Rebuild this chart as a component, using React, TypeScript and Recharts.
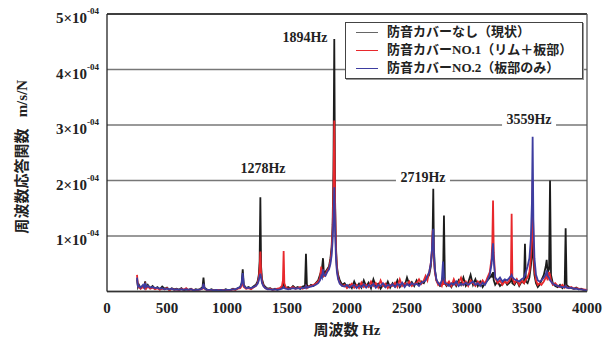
import { LineChart, Line, XAxis, YAxis, CartesianGrid, ReferenceLine, ReferenceDot, Legend, Label } from 'recharts';

// frequency-response spectra, values in units of 1e-4 m/s/N
const freqs = [
  250, 258, 266, 280, 300, 310, 318, 326, 340, 360,
  380, 400, 420, 440, 460, 480, 500, 520, 540, 560,
  580, 600, 620, 640, 660, 680, 700, 720, 740, 760,
  780, 796, 804, 812, 830, 850, 870, 890, 910, 930,
  950, 970, 990, 1010, 1030, 1050, 1070, 1090, 1110, 1122,
  1131, 1140, 1160, 1180, 1200, 1220, 1240, 1255, 1265, 1272,
  1278, 1284, 1292, 1305, 1320, 1340, 1360, 1380, 1400, 1420,
  1440, 1458, 1466, 1472, 1478, 1490, 1510, 1530, 1550, 1570,
  1590, 1610, 1630, 1650, 1658, 1666, 1680, 1700, 1720, 1740,
  1760, 1775, 1785, 1792, 1800, 1808, 1820, 1835, 1850, 1862,
  1872, 1880, 1887, 1894, 1901, 1908, 1916, 1926, 1940, 1960,
  1980, 2000, 2020, 2040, 2060, 2080, 2100, 2120, 2140, 2160,
  2180, 2200, 2220, 2240, 2260, 2280, 2300, 2320, 2340, 2360,
  2380, 2400, 2420, 2440, 2460, 2480, 2500, 2520, 2540, 2560,
  2580, 2600, 2620, 2640, 2655, 2670, 2685, 2698, 2708, 2714,
  2719, 2724, 2732, 2745, 2760, 2775, 2790, 2800, 2808, 2816,
  2830, 2850, 2870, 2890, 2910, 2930, 2950, 2970, 2990, 3010,
  3030, 3050, 3070, 3090, 3110, 3130, 3150, 3170, 3190, 3205,
  3211, 3217, 3223, 3235, 3255, 3275, 3295, 3315, 3335, 3355,
  3366, 3372, 3378, 3395, 3415, 3435, 3455, 3475, 3483, 3491,
  3505, 3520, 3532, 3541, 3547, 3553, 3562, 3575, 3590, 3605,
  3620, 3640, 3656, 3664, 3672, 3684, 3692, 3700, 3715, 3735,
  3755, 3775, 3795, 3814, 3822, 3830, 3850, 3870, 3890, 3910,
  3930, 3950, 3970, 4000,
];

// 防音カバーなし（現状）
const noCover = [
  0.22, 0.08, 0.12, 0.06, 0.1, 0.08, 0.18, 0.07, 0.12, 0.06,
  0.1, 0.05, 0.08, 0.04, 0.09, 0.05, 0.07, 0.03, 0.06, 0.04,
  0.05, 0.03, 0.06, 0.02, 0.04, 0.03, 0.05, 0.02, 0.04, 0.03,
  0.05, 0.08, 0.25, 0.07, 0.04, 0.02, 0.04, 0.02, 0.03, 0.02,
  0.03, 0.02, 0.04, 0.02, 0.03, 0.05, 0.03, 0.06, 0.08, 0.15,
  0.4, 0.12, 0.06, 0.08, 0.05, 0.09, 0.12, 0.18, 0.3, 0.55,
  1.7, 0.45, 0.22, 0.12, 0.08, 0.05, 0.06, 0.03, 0.05, 0.03,
  0.05, 0.07, 0.1, 0.2, 0.08, 0.06, 0.08, 0.05, 0.1, 0.06,
  0.08, 0.05, 0.09, 0.1, 0.68, 0.12, 0.08, 0.12, 0.1, 0.15,
  0.2, 0.3, 0.25, 0.42, 0.6, 0.3, 0.35, 0.4, 0.45, 0.6,
  0.8, 1.2, 2.2, 4.55, 1.6, 0.8, 0.45, 0.3, 0.2, 0.12,
  0.15, 0.08, 0.12, 0.06, 0.18, 0.08, 0.14, 0.07, 0.2, 0.09,
  0.16, 0.06, 0.22, 0.1, 0.14, 0.05, 0.12, 0.08, 0.18, 0.07,
  0.15, 0.09, 0.2, 0.08, 0.14, 0.1, 0.25, 0.12, 0.17, 0.1,
  0.2, 0.12, 0.18, 0.15, 0.22, 0.25, 0.3, 0.45, 0.7, 1.1,
  1.85, 0.8, 0.4, 0.2, 0.15, 0.1, 0.12, 0.2, 1.37, 0.15,
  0.1, 0.15, 0.08, 0.18, 0.1, 0.2, 0.12, 0.25, 0.1, 0.16,
  0.3, 0.12, 0.22, 0.1, 0.18, 0.08, 0.15, 0.2, 0.25, 0.3,
  0.25, 0.35, 0.2, 0.12, 0.18, 0.1, 0.14, 0.2, 0.12, 0.16,
  0.2, 0.28, 0.15, 0.12, 0.2, 0.1, 0.18, 0.15, 0.86, 0.18,
  0.15, 0.25, 0.45, 0.7, 1.0, 0.6, 0.3, 0.15, 0.08, 0.12,
  0.2, 0.3, 0.45, 0.57, 0.35, 0.4, 2.0, 0.3, 0.15, 0.1,
  0.08, 0.12, 0.06, 0.1, 1.14, 0.12, 0.08, 0.06, 0.05, 0.07,
  0.04, 0.05, 0.03, 0.02,
];

// 防音カバーNO.1（リム＋板部）
const cover1 = [
  0.3, 0.1, 0.08, 0.05, 0.08, 0.06, 0.12, 0.05, 0.09, 0.05,
  0.07, 0.04, 0.06, 0.03, 0.05, 0.04, 0.06, 0.02, 0.05, 0.03,
  0.04, 0.02, 0.05, 0.03, 0.06, 0.02, 0.04, 0.03, 0.02, 0.03,
  0.04, 0.05, 0.12, 0.05, 0.03, 0.02, 0.03, 0.02, 0.02, 0.03,
  0.02, 0.03, 0.02, 0.03, 0.02, 0.04, 0.03, 0.05, 0.06, 0.1,
  0.22, 0.08, 0.05, 0.06, 0.04, 0.07, 0.1, 0.15, 0.25, 0.4,
  0.72, 0.35, 0.18, 0.1, 0.06, 0.04, 0.05, 0.03, 0.04, 0.05,
  0.06, 0.1, 0.2, 0.73, 0.15, 0.07, 0.05, 0.06, 0.08, 0.05,
  0.06, 0.08, 0.05, 0.07, 0.1, 0.06, 0.09, 0.1, 0.12, 0.14,
  0.18, 0.25, 0.45, 0.3, 0.35, 0.28, 0.3, 0.38, 0.42, 0.55,
  0.75, 1.1, 1.8, 3.08, 1.5, 0.75, 0.4, 0.25, 0.15, 0.1,
  0.12, 0.06, 0.1, 0.14, 0.07, 0.12, 0.06, 0.16, 0.08, 0.12,
  0.08, 0.18, 0.1, 0.15, 0.07, 0.2, 0.1, 0.14, 0.06, 0.12,
  0.1, 0.16, 0.08, 0.22, 0.1, 0.15, 0.12, 0.18, 0.1, 0.14,
  0.15, 0.22, 0.14, 0.2, 0.28, 0.2, 0.35, 0.5, 0.75, 1.1,
  0.95, 0.6, 0.35, 0.2, 0.12, 0.15, 0.1, 0.18, 0.12, 0.2,
  0.12, 0.18, 0.1, 0.22, 0.12, 0.16, 0.25, 0.12, 0.18, 0.1,
  0.2, 0.15, 0.1, 0.18, 0.12, 0.2, 0.14, 0.25, 0.35, 0.6,
  0.9, 1.64, 0.7, 0.25, 0.15, 0.2, 0.12, 0.18, 0.15, 0.2,
  0.3, 1.4, 0.25, 0.15, 0.22, 0.12, 0.2, 0.15, 0.18, 0.22,
  0.25, 0.35, 0.6, 1.1, 2.0, 0.9, 0.4, 0.2, 0.12, 0.15,
  0.12, 0.18, 0.25, 0.3, 0.2, 0.35, 0.3, 0.2, 0.12, 0.15,
  0.1, 0.08, 0.12, 0.07, 0.1, 0.08, 0.06, 0.08, 0.05, 0.06,
  0.05, 0.04, 0.04, 0.03,
];

// 防音カバーNO.2（板部のみ）
const cover2 = [
  0.25, 0.09, 0.1, 0.07, 0.12, 0.07, 0.15, 0.08, 0.1, 0.07,
  0.08, 0.06, 0.07, 0.05, 0.06, 0.04, 0.05, 0.04, 0.05, 0.03,
  0.04, 0.03, 0.04, 0.03, 0.04, 0.03, 0.04, 0.02, 0.03, 0.03,
  0.04, 0.06, 0.14, 0.06, 0.03, 0.03, 0.03, 0.02, 0.03, 0.02,
  0.03, 0.02, 0.03, 0.03, 0.03, 0.04, 0.04, 0.06, 0.08, 0.14,
  0.33, 0.1, 0.06, 0.07, 0.06, 0.08, 0.1, 0.14, 0.2, 0.28,
  0.32, 0.25, 0.15, 0.09, 0.06, 0.04, 0.04, 0.03, 0.04, 0.03,
  0.04, 0.05, 0.06, 0.08, 0.06, 0.05, 0.04, 0.05, 0.06, 0.05,
  0.06, 0.05, 0.07, 0.06, 0.1, 0.07, 0.08, 0.09, 0.1, 0.12,
  0.15, 0.2, 0.28, 0.25, 0.4, 0.3, 0.28, 0.35, 0.4, 0.5,
  0.65, 0.9, 1.3, 1.88, 1.1, 0.6, 0.35, 0.22, 0.14, 0.1,
  0.09, 0.12, 0.07, 0.1, 0.12, 0.06, 0.11, 0.08, 0.13, 0.07,
  0.12, 0.09, 0.14, 0.07, 0.12, 0.1, 0.15, 0.08, 0.12, 0.1,
  0.13, 0.08, 0.14, 0.1, 0.16, 0.08, 0.14, 0.1, 0.15, 0.12,
  0.14, 0.1, 0.16, 0.18, 0.2, 0.28, 0.35, 0.5, 0.75, 1.0,
  1.13, 0.7, 0.4, 0.22, 0.15, 0.12, 0.2, 0.54, 0.25, 0.15,
  0.14, 0.1, 0.15, 0.12, 0.18, 0.1, 0.14, 0.12, 0.16, 0.12,
  0.15, 0.18, 0.12, 0.15, 0.1, 0.16, 0.12, 0.2, 0.3, 0.5,
  0.7, 0.87, 0.55, 0.25, 0.2, 0.25, 0.18, 0.22, 0.2, 0.25,
  0.28, 0.3, 0.26, 0.22, 0.2, 0.18, 0.22, 0.25, 0.3, 0.35,
  0.45, 0.6, 0.95, 1.6, 2.79, 1.3, 0.6, 0.3, 0.2, 0.18,
  0.2, 0.25, 0.3, 0.38, 0.28, 0.25, 0.2, 0.18, 0.14, 0.12,
  0.1, 0.09, 0.08, 0.08, 0.1, 0.07, 0.06, 0.07, 0.05, 0.05,
  0.04, 0.04, 0.03, 0.02,
];

const seriesNames = ['防音カバーなし（現状）', '防音カバーNO.1（リム＋板部）', '防音カバーNO.2（板部のみ）'];
const seriesKeys = ['none', 'no1', 'no2'];
const seriesColors = ['#1c1c1c', '#e8282c', '#3d3da0'];

const xTicks = [0, 500, 1000, 1500, 2000, 2500, 3000, 3500, 4000];
const yTicks = [1, 2, 3, 4, 5];

// peak annotations (text placed in data coordinates)
const peakLabels = ['1894Hz', '1278Hz', '2719Hz', '3559Hz'];
const peakLabelF = [1650, 1300, 2633, 3517];
const peakLabelV = [4.58, 2.22, 2.07, 3.1];

const data = freqs.map((f, i) => ({ f, none: noCover[i], no1: cover1[i], no2: cover2[i] }));

const FONT = '"Liberation Serif", "Noto Sans CJK JP", serif';

function YTick({ x, y, payload }: any) {
  return (
    <text x={x} y={y} textAnchor="end" fontFamily={FONT} fontWeight="bold" fill="#222">
      <tspan dy={9} fontSize={15}>{payload.value}×10</tspan>
      <tspan dy={-9} fontSize={9}>-04</tspan>
    </text>
  );
}

function PeakLabel({ cx, cy, text }: any) {
  return (
    <g>
      <rect x={cx - 27} y={cy - 7} width={54} height={14} fill="#fff" />
      <text x={cx} y={cy + 5} textAnchor="middle" fontFamily={FONT} fontWeight="bold" fontSize={14} fill="#222">
        {text}
      </text>
    </g>
  );
}

function LegendBox() {
  return (
    <div
      style={{
        width: 236,
        height: 55,
        border: '1px solid #444',
        boxShadow: '1px 1px 0 #999',
        background: '#fff',
        fontFamily: FONT,
        fontWeight: 'bold',
        fontSize: 13,
        color: '#222',
      }}
    >
      {seriesNames.map((name, i) => (
        <div key={name} style={{ position: 'relative', height: 18, lineHeight: '18px' }}>
          <span
            style={{
              position: 'absolute',
              left: 10,
              top: 9,
              width: 22,
              borderTop: `1.5px solid ${i === 0 ? '#666' : seriesColors[i]}`,
            }}
          />
          <span style={{ position: 'absolute', left: 41, top: 0, whiteSpace: 'nowrap' }}>{name}</span>
        </div>
      ))}
    </div>
  );
}

export default function App() {
  return (
    <div style={{ position: 'absolute', left: 0, top: 0, background: '#fff' }}>
      <LineChart width={612} height={338} data={data} margin={{ top: 14, right: 25, bottom: 0, left: 0 }}>
        <CartesianGrid vertical={false} stroke="#777" strokeWidth={1.3} />
        <XAxis
          type="number"
          dataKey="f"
          domain={[0, 4000]}
          ticks={xTicks}
          height={46.5}
          tickLine={false}
          tickMargin={5}
          axisLine={{ stroke: '#333', strokeWidth: 1.3 }}
          tick={{ fontFamily: FONT, fontWeight: 'bold', fontSize: 15, fill: '#222' }}
        >
          <Label value="周波数 Hz" position="insideBottom" offset={3} fontFamily={FONT} fontWeight="bold" fontSize={15} fill="#222" />
        </XAxis>
        <YAxis
          type="number"
          domain={[0, 5]}
          ticks={yTicks}
          width={107}
          tickLine={false}
          axisLine={{ stroke: '#222', strokeWidth: 1.3 }}
          tick={<YTick />}
        >
          <Label
            content={({ viewBox }: any) => {
              const cx = viewBox.x + 22;
              const cy = viewBox.y + viewBox.height / 2 + 4;
              return (
                <text
                  x={cx}
                  y={cy}
                  transform={`rotate(-90 ${cx} ${cy})`}
                  textAnchor="middle"
                  dominantBaseline="central"
                  fontFamily={FONT}
                  fontWeight="bold"
                  fontSize={15}
                  fill="#222"
                >
                  {'周波数応答関数\u00a0\u00a0\u00a0m/s/N'}
                </text>
              );
            }}
          />
        </YAxis>
        <ReferenceLine y={5} stroke="#222" strokeWidth={1.3} />
        <ReferenceLine x={4000} stroke="#555" strokeWidth={1.3} />
        {seriesKeys.map((k, i) => (
          <Line
            key={k}
            type="linear"
            dataKey={k}
            name={seriesNames[i]}
            stroke={seriesColors[i]}
            strokeWidth={1.8}
            dot={false}
            isAnimationActive={false}
          />
        ))}
        {peakLabels.map((t, i) => (
          <ReferenceDot
            key={t}
            x={peakLabelF[i]}
            y={peakLabelV[i]}
            r={1}
            shape={(p: any) => <PeakLabel cx={p.cx} cy={p.cy} text={t} />}
          />
        ))}
        <Legend
          layout="vertical"
          align="center"
          verticalAlign="middle"
          wrapperStyle={{ left: 345, top: 22, width: 238, height: 57 }}
          content={() => <LegendBox />}
        />
      </LineChart>
    </div>
  );
}
